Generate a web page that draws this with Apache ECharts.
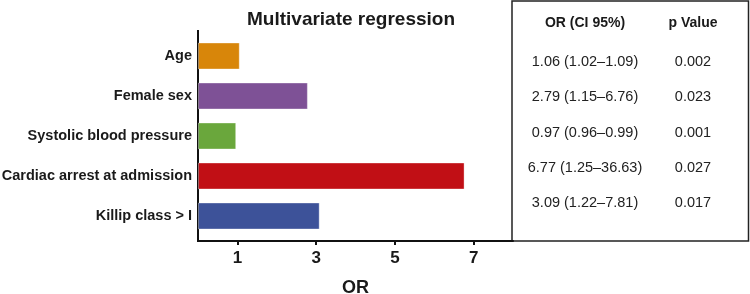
<!DOCTYPE html>
<html>
<head>
<meta charset="utf-8">
<script src="https://cdn.jsdelivr.net/npm/echarts@6/dist/echarts.min.js"></script>
<style>
  html, body { margin: 0; padding: 0; background: #fff; }
  #main { width: 750px; height: 294px; }
</style>
</head>
<body>
<div id="main"></div>
<script>
var myChart = echarts.init(document.getElementById('main'));

const categories = ['Age', 'Female sex', 'Systolic blood pressure', 'Cardiac arrest at admission', 'Killip class > I'];
const orValues = [1.06, 2.79, 0.97, 6.77, 3.09];
const ciLabels = ['1.06 (1.02\u20131.09)', '2.79 (1.15\u20136.76)', '0.97 (0.96\u20130.99)', '6.77 (1.25\u201336.63)', '3.09 (1.22\u20137.81)'];
const pValues = ['0.002', '0.023', '0.001', '0.027', '0.017'];
const tickValues = [1, 3, 5, 7];
const barColors = ['#d8860a', '#7e5196', '#6aa73c', '#c10f15', '#3d5299'];

const sans = "'Liberation Sans', Arial, sans-serif";

// table on the right
var tableGraphics = [
  {
    type: 'rect',
    shape: { x: 512, y: 1, width: 236.5, height: 240 },
    style: { fill: 'none', stroke: '#222', lineWidth: 1.5 }
  },
  {
    type: 'text', x: 585, y: 23,
    style: { text: 'OR (CI 95%)', font: 'bold 14px ' + sans, fill: '#1a1a1a', align: 'center', verticalAlign: 'middle' }
  },
  {
    type: 'text', x: 693, y: 23,
    style: { text: 'p Value', font: 'bold 14px ' + sans, fill: '#1a1a1a', align: 'center', verticalAlign: 'middle' }
  },
  // y axis line reaching a bit above the bars, like the original
  {
    type: 'line',
    shape: { x1: 198, y1: 30, x2: 198, y2: 242 },
    style: { stroke: '#111', lineWidth: 2 }
  }
];
ciLabels.forEach(function (txt, i) {
  var y = 62 + i * 35.3;
  tableGraphics.push({
    type: 'text', x: 585, y: y,
    style: { text: txt, font: '14.5px ' + sans, fill: '#222', align: 'center', verticalAlign: 'middle' }
  });
  tableGraphics.push({
    type: 'text', x: 693, y: y,
    style: { text: pValues[i], font: '14.5px ' + sans, fill: '#222', align: 'center', verticalAlign: 'middle' }
  });
});

var option = {
  backgroundColor: '#fff',
  animation: false,
  title: {
    text: 'Multivariate regression',
    left: 346,
    top: 5,
    textAlign: 'center',
    textStyle: { fontFamily: sans, fontWeight: 'bold', fontSize: 19, color: '#1a1a1a' }
  },
  grid: {
    left: 198,
    width: 315,
    top: 36,
    height: 200,
    containLabel: false,
    outerBoundsMode: 'none'
  },
  xAxis: {
    type: 'value',
    min: 0,
    max: 8,
    offset: 5,
    splitLine: { show: false },
    axisLine: { show: true, lineStyle: { color: '#111', width: 2 } },
    axisTick: { show: true, customValues: tickValues, length: 4, lineStyle: { color: '#111', width: 2 } },
    axisLabel: {
      customValues: tickValues,
      margin: 9,
      fontFamily: sans,
      fontWeight: 'bold',
      fontSize: 17,
      color: '#1a1a1a'
    },
    name: 'OR',
    nameLocation: 'middle',
    nameGap: 38,
    nameTextStyle: { fontFamily: sans, fontWeight: 'bold', fontSize: 18, color: '#1a1a1a' }
  },
  yAxis: {
    type: 'category',
    inverse: true,
    data: categories,
    axisLine: { show: false },
    axisTick: { show: false },
    axisLabel: {
      margin: 6,
      fontFamily: sans,
      fontWeight: 'bold',
      fontSize: 14.5,
      color: '#1a1a1a'
    }
  },
  series: [
    {
      type: 'bar',
      barWidth: 27,
      data: orValues.map(function (v, i) {
        return { value: v, itemStyle: { color: barColors[i] } };
      }),
      itemStyle: { borderColor: 'rgba(255,255,255,0.35)', borderWidth: 1 }
    }
  ],
  graphic: tableGraphics
};

myChart.setOption(option);
</script>
</body>
</html>
